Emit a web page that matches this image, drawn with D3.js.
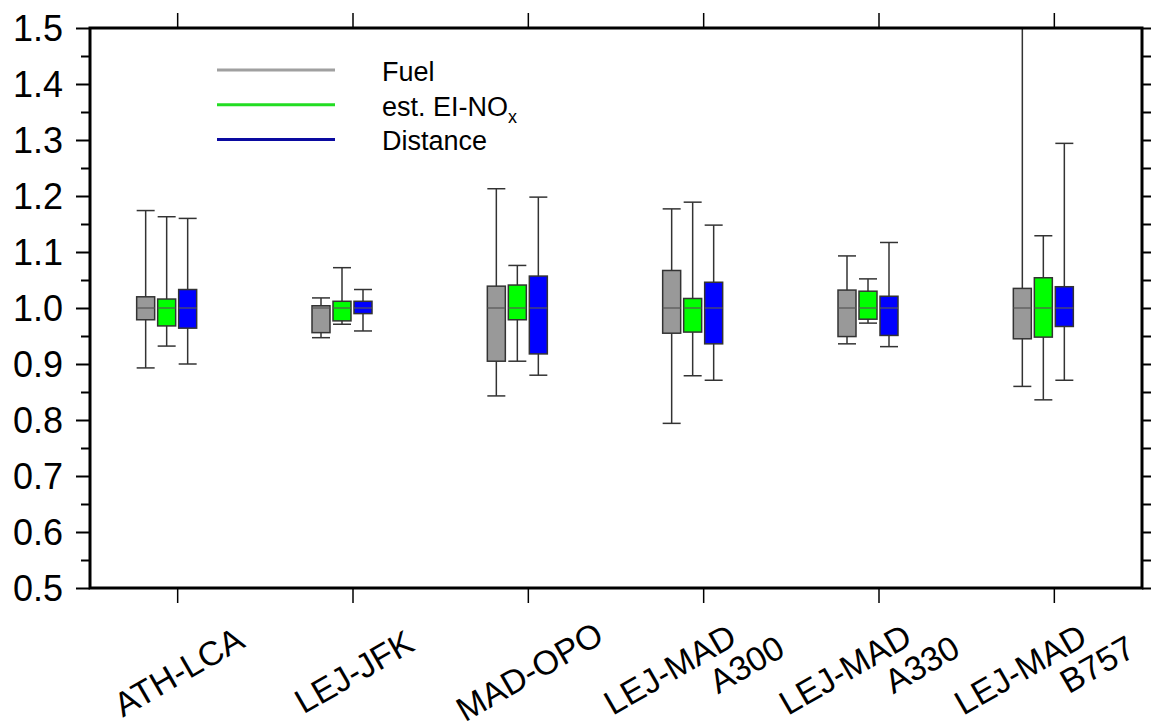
<!DOCTYPE html>
<html>
<head>
<meta charset="utf-8">
<script src="https://cdn.jsdelivr.net/npm/d3@7"></script>
<style>
  body { margin: 0; background: #fff; }
  text { font-family: "Liberation Sans", Arial, sans-serif; fill: #000; }
</style>
</head>
<body>
<div id="box_plot"></div>
<script>

// categories (routes) and the two-line ones carry an aircraft type
const routes = ["ATH-LCA", "LEJ-JFK", "MAD-OPO", "LEJ-MAD", "LEJ-MAD", "LEJ-MAD"];
const aircraft = ["", "", "", "A300", "A330", "B757"];

const seriesNames = ["Fuel", "est. EI-NO", "Distance"];
const seriesColors = ["#999999", "#00ff00", "#0000ff"];
const legendColors = ["#a0a0a0", "#22dd22", "#0a0aa0"];

// [lower whisker, q1, median, q3, upper whisker] per route
const fuelStats = [
  [0.893, 0.979, 1.0, 1.020, 1.174],
  [0.947, 0.956, 1.0, 1.004, 1.018],
  [0.843, 0.905, 1.0, 1.039, 1.213],
  [0.794, 0.955, 1.0, 1.067, 1.177],
  [0.936, 0.949, 1.0, 1.032, 1.093],
  [0.860, 0.945, 1.0, 1.035, 1.60]
];
const noxStats = [
  [0.932, 0.968, 1.0, 1.016, 1.163],
  [0.971, 0.977, 1.0, 1.012, 1.072],
  [0.905, 0.979, 1.0, 1.041, 1.076],
  [0.879, 0.957, 1.0, 1.017, 1.189],
  [0.973, 0.980, 1.0, 1.030, 1.052],
  [0.836, 0.948, 1.0, 1.054, 1.129]
];
const distStats = [
  [0.900, 0.964, 1.0, 1.033, 1.160],
  [0.959, 0.990, 1.0, 1.012, 1.033],
  [0.880, 0.918, 1.0, 1.057, 1.198],
  [0.871, 0.936, 1.0, 1.046, 1.148],
  [0.931, 0.951, 1.0, 1.021, 1.117],
  [0.871, 0.967, 1.0, 1.038, 1.294]
];

const yTicks = [0.5, 0.6, 0.7, 0.8, 0.9, 1.0, 1.1, 1.2, 1.3, 1.4, 1.5];
const yMinorTicks = [0.55, 0.65, 0.75, 0.85, 0.95, 1.05, 1.15, 1.25, 1.35, 1.45];

let width = 1151,
  height = 725,
  margin = ({ top: 28, right: 9, bottom: 137, left: 90 });

const svg = d3.select("#box_plot")
  .append("svg")
  .attr("width", width)
  .attr("height", height);

let x = d3.scaleBand()
  .domain(d3.range(routes.length))
  .range([margin.left, width - margin.right]);

// position of each series inside a route, relative to the band centre
let xs = d3.scalePoint()
  .domain(d3.range(seriesNames.length))
  .range([-32, 10]);

let y = d3.scaleLinear()
  .domain([0.5, 1.5])
  .range([height - margin.bottom, margin.top]);

const boxW = 18;
const cx = i => x(i) + x.bandwidth() / 2;

svg.append("clipPath")
  .attr("id", "plot-clip")
  .append("rect")
  .attr("x", margin.left)
  .attr("y", margin.top)
  .attr("width", width - margin.left - margin.right)
  .attr("height", height - margin.top - margin.bottom);

// left axis: major ticks with labels, then minor ticks
svg.append("g")
  .attr("transform", `translate(${margin.left},0)`)
  .call(d3.axisLeft(y)
    .tickValues(yTicks)
    .tickSize(14)
    .tickPadding(13)
    .tickFormat(d3.format(".1f")))
  .call(g => g.select(".domain").remove())
  .call(g => g.selectAll(".tick line").attr("stroke-width", 2))
  .call(g => g.selectAll(".tick text")
    .attr("font-size", 36)
    .attr("dy", "0.36em"));

svg.append("g")
  .attr("transform", `translate(${margin.left},0)`)
  .call(d3.axisLeft(y).tickValues(yMinorTicks).tickSize(9).tickFormat(""))
  .call(g => g.select(".domain").remove())
  .call(g => g.selectAll(".tick line").attr("stroke-width", 2));

// right axis: all ticks, no labels
svg.append("g")
  .attr("transform", `translate(${width - margin.right},0)`)
  .call(d3.axisRight(y).tickValues(yTicks.concat(yMinorTicks)).tickSize(10).tickFormat(""))
  .call(g => g.select(".domain").remove())
  .call(g => g.selectAll(".tick line").attr("stroke-width", 2));

// top and bottom ticks at each route
svg.append("g")
  .attr("transform", `translate(0,${margin.top})`)
  .call(d3.axisTop(x).tickSize(15).tickFormat(""))
  .call(g => g.select(".domain").remove())
  .call(g => g.selectAll(".tick line").attr("stroke-width", 1.5));

svg.append("g")
  .attr("transform", `translate(0,${height - margin.bottom})`)
  .call(d3.axisBottom(x).tickSize(15).tickFormat(""))
  .call(g => g.select(".domain").remove())
  .call(g => g.selectAll(".tick line").attr("stroke-width", 1.5));

// rotated route labels
routes.forEach((r, i) => {
  let t = svg.append("text")
    .attr("font-size", 34);
  if (aircraft[i] === "") {
    t.attr("transform", `translate(${cx(i) + 7},${682})rotate(-30)`)
      .attr("text-anchor", "middle")
      .text(r);
  } else {
    t.attr("transform", `translate(${cx(i) - 91},${716})rotate(-30)`)
      .attr("text-anchor", "start");
    t.append("tspan").attr("x", 0).attr("y", 0).text(r);
    t.append("tspan").attr("x", 102).attr("y", 34).text(aircraft[i]);
  }
});

// boxes
const allStats = [fuelStats, noxStats, distStats];
const plot = svg.append("g").attr("clip-path", "url(#plot-clip)");

allStats.forEach((stats, s) => {
  stats.forEach((d, i) => {
    let xc = cx(i) + xs(s);
    let g = plot.append("g").attr("class", "box");

    // whisker
    g.append("line")
      .attr("x1", xc).attr("x2", xc)
      .attr("y1", y(d[0])).attr("y2", y(d[4]))
      .attr("stroke", "#333").attr("stroke-width", 1.5);
    [d[0], d[4]].forEach(v => {
      g.append("line")
        .attr("x1", xc - boxW / 2).attr("x2", xc + boxW / 2)
        .attr("y1", y(v)).attr("y2", y(v))
        .attr("stroke", "#333").attr("stroke-width", 1.5);
    });

    g.append("rect")
      .attr("x", xc - boxW / 2)
      .attr("y", y(d[3]))
      .attr("width", boxW)
      .attr("height", y(d[1]) - y(d[3]))
      .attr("fill", seriesColors[s])
      .attr("stroke", "#333")
      .attr("stroke-width", 1.5);

    g.append("line")
      .attr("x1", xc - boxW / 2).attr("x2", xc + boxW / 2)
      .attr("y1", y(d[2])).attr("y2", y(d[2]))
      .attr("stroke", "#555").attr("stroke-width", 1.2);
  });
});

// frame
svg.append("rect")
  .attr("x", margin.left)
  .attr("y", margin.top)
  .attr("width", width - margin.left - margin.right)
  .attr("height", height - margin.top - margin.bottom)
  .attr("fill", "none")
  .attr("stroke", "#000")
  .attr("stroke-width", 3);

// legend
const legend = svg.append("g");
seriesNames.forEach((name, s) => {
  let ly = 70 + s * 34.7;
  legend.append("line")
    .attr("x1", 217).attr("x2", 335)
    .attr("y1", ly).attr("y2", ly)
    .attr("stroke", legendColors[s])
    .attr("stroke-width", 3);
  let t = legend.append("text")
    .attr("x", 382)
    .attr("y", ly + 11)
    .attr("font-size", 27)
    .text(name);
  if (s === 1) {
    t.append("tspan")
      .attr("font-size", 18)
      .attr("dy", 7)
      .text("x");
  }
});

</script>
</body>
</html>
